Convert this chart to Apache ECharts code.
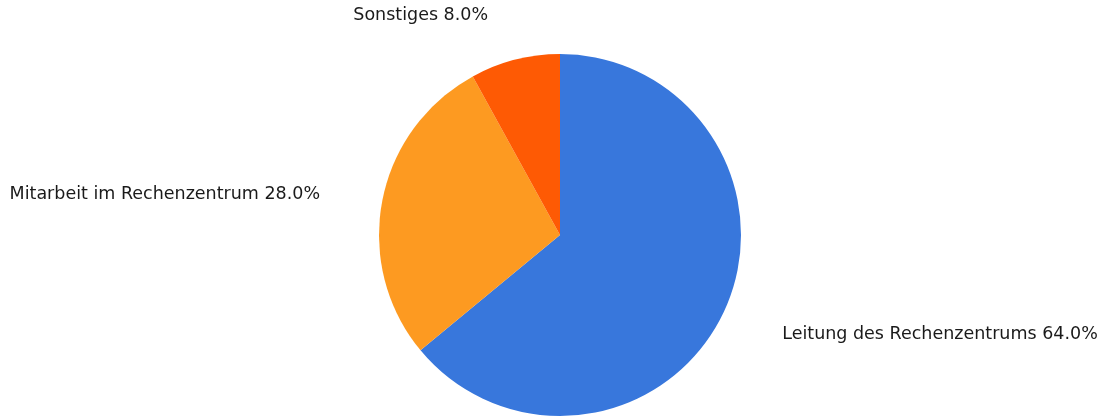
<!DOCTYPE html>
<html>
<head>
<meta charset="utf-8">
<script src="https://cdn.jsdelivr.net/npm/echarts@6/dist/echarts.min.js"></script>
<style>
  html, body { margin: 0; padding: 0; background: #ffffff; }
  #chart { width: 1105px; height: 418px; }
</style>
</head>
<body>
<div id="chart"></div>
<script>
// Aufteilung der Tätigkeiten
const categories = ['Leitung des Rechenzentrums', 'Mitarbeit im Rechenzentrum', 'Sonstiges'];
const shares = [64.0, 28.0, 8.0];
const sliceColors = ['#3877dc', '#fd9a21', '#fe5a04'];

const chart = echarts.init(document.getElementById('chart'), null, { renderer: 'canvas' });

chart.setOption({
  animation: false,
  backgroundColor: '#ffffff',
  series: [{
    type: 'pie',
    center: [560, 235],
    radius: 181,
    startAngle: 90,
    clockwise: true,
    avoidLabelOverlap: false,
    data: categories.map((name, i) => ({
      name: name,
      value: shares[i],
      itemStyle: { color: sliceColors[i] }
    })),
    label: {
      show: true,
      position: 'outer',
      alignTo: 'none',
      formatter: p => p.name + ' ' + p.value.toFixed(1) + '%',
      fontFamily: '"DejaVu Sans", sans-serif',
      fontSize: 17.5,
      color: '#1a1a1a',
      distanceToLabelLine: 5
    },
    labelLine: {
      show: false,
      length: 48,
      length2: 10
    },
    labelLayout: { dy: 2 },
    emphasis: { disabled: true }
  }]
});
</script>
</body>
</html>
